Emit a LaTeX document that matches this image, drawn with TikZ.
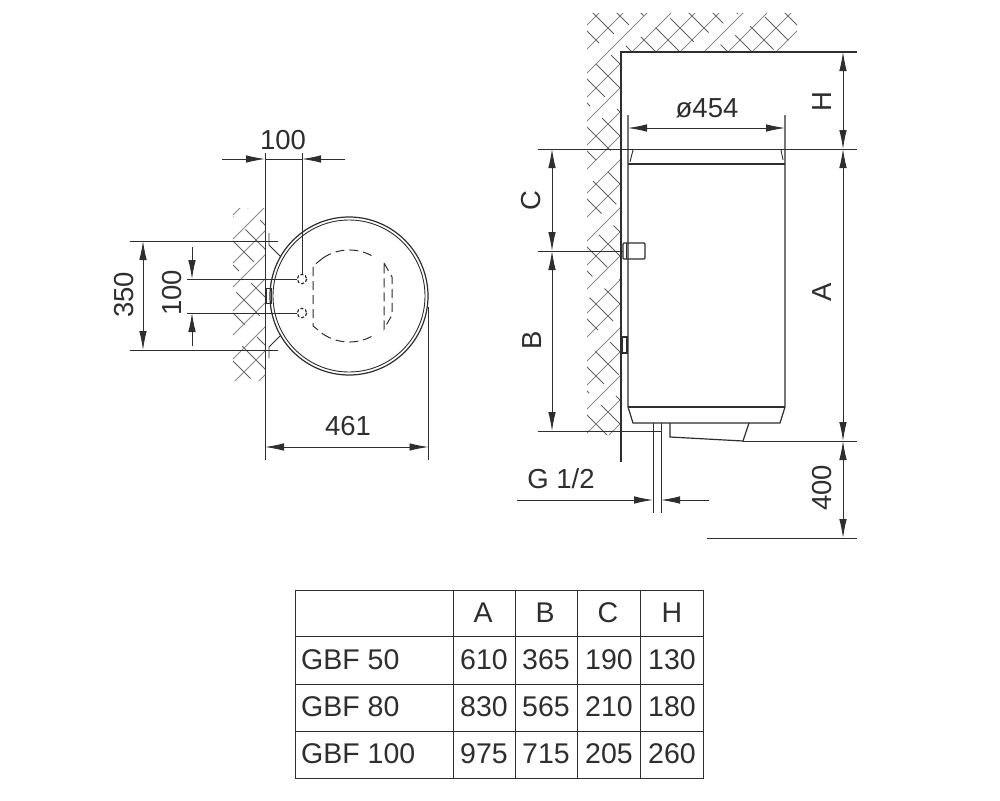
\documentclass[tikz,border=0pt]{standalone}
\usepackage{fontspec}
\setmainfont{Liberation Sans}
\usetikzlibrary{arrows.meta}

\definecolor{inkline}{HTML}{2E2E2E}
\definecolor{inkhatch}{HTML}{8A8A8A}

\tikzset{
  outline/.style={draw=inkline, line width=1.2pt},
  thinline/.style={draw=inkline, line width=0.9pt},
  dimline/.style={draw=inkline, line width=0.9pt, {Latex[length=19pt,width=7.5pt]}-{Latex[length=19pt,width=7.5pt]}},
  inarrow/.style={draw=inkline, line width=0.9pt, -{Latex[length=19pt,width=7.5pt]}},
  hiddenline/.style={draw=inkline, line width=1pt, dash pattern=on 9pt off 5pt},
  hatchup/.style={draw=inkhatch, line width=0.8pt},
  hatchdown/.style={draw=inkhatch!70!black, line width=0.8pt, dash pattern=on 33pt off 17pt},
  dimlabel/.style={text=inkline, font=\fontsize{27.5}{27.5}\selectfont, inner sep=0pt},
  cell/.style={text=inkline, font=\fontsize{28.5}{28.5}\selectfont, inner sep=0pt},
}

\begin{document}
\begin{tikzpicture}[x=1pt, y=-1pt]
  \useasboundingbox (0,0) rectangle (1000,800);
  \fill[white] (0,0) rectangle (1000,800);

  % wall hatching, top view
  \begin{scope}
    \clip (233,208) rectangle (265,380);
    \foreach \i in {0,...,30}{
      \draw[hatchup] ({\i*24-100},500) -- ++(400,-400);
      \draw[hatchdown, dash phase={\i*13}] ({\i*24-100},100) -- ++(400,400);
    }
  \end{scope}

  % wall hatching, side view
  \begin{scope}
    \clip (587,13) rectangle (797,52) (587,52) rectangle (621,435);
    \foreach \i in {0,...,60}{
      \draw[hatchup] ({\i*24+300},0) -- ++(-500,500);
      \draw[hatchdown, dash phase={\i*13}] ({\i*24-500},0) -- ++(500,500);
    }
  \end{scope}

  % top view of the tank
  \draw[outline] (349,296) circle (79);
  \draw[thinline] (349,296) circle (76);
  \draw[hiddenline] (323,258) arc[start angle=-124, end angle=-56, radius=47];
  \draw[hiddenline] (323,258) -- (313,266) -- (313,326) -- (323,334);
  \draw[hiddenline] (323,334) arc[start angle=124, end angle=56, radius=47];
  \draw[hiddenline] (384,263) -- (392,277) -- (392,315) -- (384,329) -- cycle;

  \draw[outline, dash pattern=on 3pt off 2pt] (302,279) circle (4.7);
  \draw[outline, dash pattern=on 3pt off 2pt] (302,313) circle (4.7);

  % brackets
  \draw[thinline] (269,233) -- (269,245) -- (281,257);
  \draw[thinline] (269,358) -- (269,347) -- (281,335);
  \draw[thinline] (266,288) rectangle (271,303);

  % dimensions, top view
  \draw[thinline] (265,153) -- (265,460);
  \draw[thinline] (302,153) -- (302,275);
  \draw[thinline] (428.5,307) -- (428.5,460);
  \draw[thinline] (130,241) -- (278,241);
  \draw[thinline] (130,350) -- (278,350);
  \draw[thinline] (187,279) -- (297,279);
  \draw[thinline] (187,313) -- (297,313);

  \draw[inarrow] (222,159) -- (265,159);
  \draw[inarrow] (345,159) -- (302,159);
  \draw[thinline] (265,159) -- (302,159);
  \node[dimlabel] (labeltopwall) at (283,140) {100};

  \draw[dimline] (143,241) -- (143,350);
  \node[dimlabel, rotate=90] (labeltopbracket) at (124,295) {350};

  \draw[inarrow] (192,247) -- (192,279);
  \draw[inarrow] (192,346) -- (192,313);
  \node[dimlabel, rotate=90] (labeltoppipes) at (172,293) {100};

  \draw[dimline] (265,447) -- (428.5,447);
  \node[dimlabel] (labeltopwidth) at (348,426) {461};

  % side view of the tank
  \draw[outline] (621,462) -- (621,52) -- (857,52);
  \draw[thinline] (538,149) -- (857,149);
  \draw[outline] (628,115) -- (628,407) -- (633,423) -- (780,423) -- (785,407) -- (785,115);
  \draw[outline] (628,164) -- (785,164);
  \draw[outline] (628,407) -- (785,407);
  \draw[thinline] (633,150) -- (630,162);
  \draw[thinline] (781,150) -- (783,160);

  \draw[outline, rounded corners=1pt] (623,243) rectangle (645,259);
  \draw[thinline] (626,243) -- (626,259);
  \draw[outline] (622,337) rectangle (627,353);

  \draw[outline] (670,423) -- (670,437) -- (743,441) -- (749,423);
  \draw[thinline] (653,423) -- (653,513);
  \draw[thinline] (661,423) -- (661,513);

  % dimensions, side view
  \draw[thinline] (538,251) -- (623,251);
  \draw[thinline] (538,431) -- (661,431);
  \draw[thinline] (743,441) -- (857,441);
  \draw[thinline] (707,538) -- (857,538);

  \draw[dimline] (628,128) -- (785,128);
  \node[dimlabel] (labeldiameter) at (707,108) {ø454};

  \draw[dimline] (843,52) -- (843,149);
  \node[dimlabel, rotate=90] (labelH) at (822,102) {H};
  \draw[dimline] (843,149) -- (843,441);
  \node[dimlabel, rotate=90] (labelA) at (822,292) {A};
  \draw[dimline] (843,441) -- (843,538);
  \node[dimlabel, rotate=90] (labelfour) at (822,488) {400};

  \draw[dimline] (552,149) -- (552,251);
  \node[dimlabel, rotate=90] (labelC) at (531,201) {C};
  \draw[dimline] (552,251) -- (552,431);
  \node[dimlabel, rotate=90] (labelB) at (532,340) {B};

  \draw[inarrow] (517,500) -- (653,500);
  \draw[inarrow] (709,500) -- (661,500);
  \node[dimlabel] (labelthread) at (561,479) {G 1/2};

  % table
  \draw[thinline] (295,590) rectangle (703,778);
  \foreach \ypos in {636,684,731}{
    \draw[thinline] (295,\ypos) -- (703,\ypos);
  }
  \foreach \xpos in {453,515,577,640}{
    \draw[thinline] (\xpos,590) -- (\xpos,778);
  }
  \foreach \x/\name in {483/A,545/B,608/C,672/H}{
    \node[cell] (head\name) at (\x,613) {\name};
  }
  \foreach \y/\name/\a/\b/\c/\h in {660/50/610/365/190/130,707/80/830/565/210/180,754/100/975/715/205/260}{
    \node[cell, anchor=west] (row\name) at (301,\y) {GBF \name};
    \node[cell] (a\name) at (484,\y) {\a};
    \node[cell] (b\name) at (546,\y) {\b};
    \node[cell] (c\name) at (609,\y) {\c};
    \node[cell] (h\name) at (672,\y) {\h};
  }
\end{tikzpicture}
\end{document}
